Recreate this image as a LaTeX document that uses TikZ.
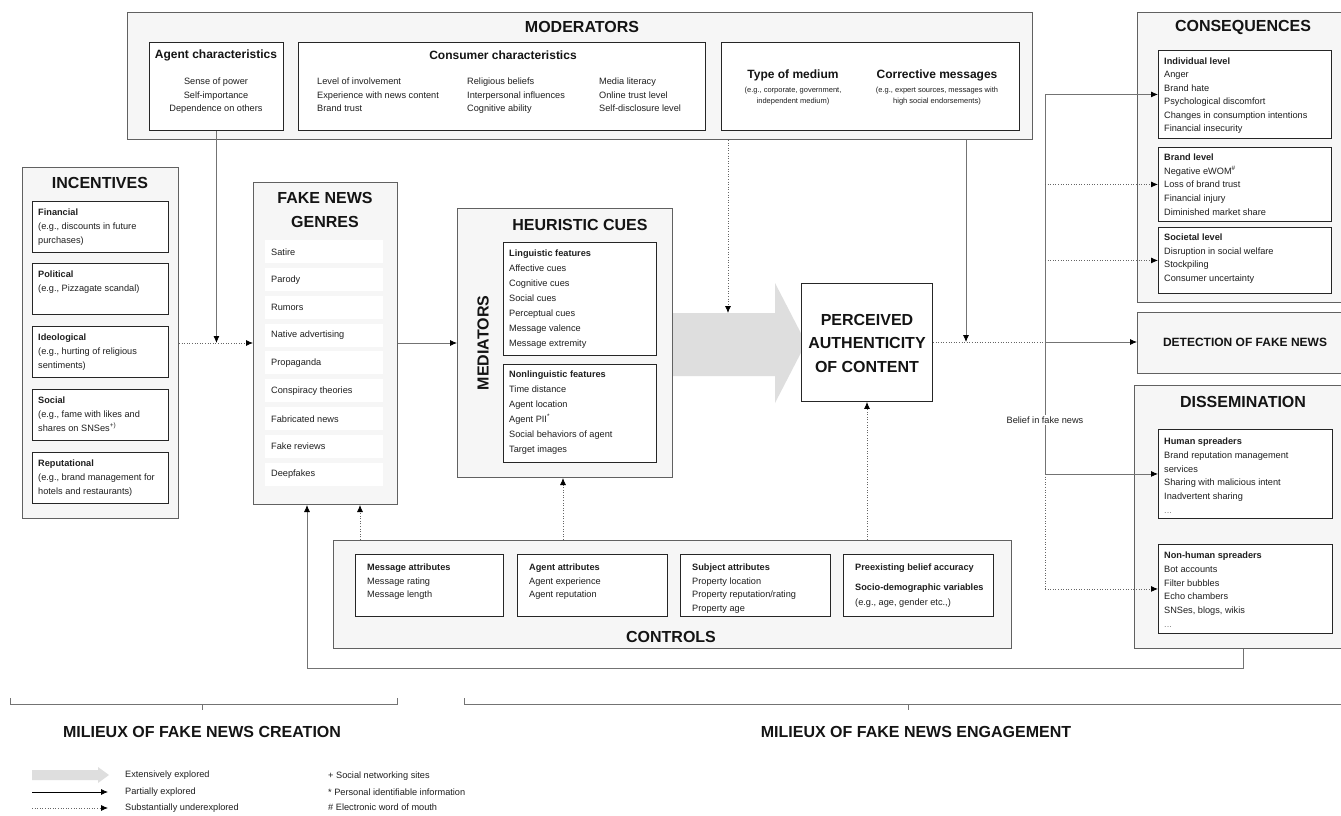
\documentclass[tikz,border=0pt]{standalone}
\usepackage{fontspec}
\setmainfont{Liberation Sans}
\usetikzlibrary{arrows.meta,calc}
\newcommand\myhd{\fontsize{16}{23.5}\selectfont\bfseries}
\newcommand\mysub{\fontsize{12}{14}\selectfont\bfseries}
\newcommand\mytxt[1]{\fontsize{9.2}{#1}\selectfont}
\newcommand\mysmall{\fontsize{7.5}{11}\selectfont}
\definecolor{grpfill}{HTML}{F6F6F6}
\definecolor{arrfill}{HTML}{DEDEDE}
\begin{document}
\begin{tikzpicture}[x=1pt,y=-1pt,
  grp/.style={draw=black!62, fill=grpfill, line width=1pt, inner sep=0pt, anchor=north west},
  ibox/.style={draw=black!85, fill=white, line width=0.9pt, inner sep=0pt, anchor=north west},
  gitem/.style={fill=white, inner sep=0pt, anchor=north west, minimum width=118pt, minimum height=23pt},
  hd/.style={font=\myhd, inner sep=0pt, text=black!92},
  sub/.style={font=\mysub, inner sep=0pt, text=black!92},
  txt/.style={font=\mytxt{13.6}, inner sep=0pt, align=left, anchor=north west, text=black!88},
  sm/.style={font=\mysmall, inner sep=0pt, align=center, anchor=north, text=black!88},
  conn/.style={draw=black!55, line width=0.8pt},
  dot/.style={draw=black!60, line width=0.8pt, dash pattern=on 1pt off 1.6pt},
  tip/.style={-{Latex[length=7pt,width=6pt,color=black]}}
]
\useasboundingbox (0,0) rectangle (1341,816);
\fill[white] (0,0) rectangle (1341,816);

% ---------- MODERATORS ----------
\node[grp, minimum width=905pt, minimum height=127pt] (mod) at (127,12) {};
\node[hd] (modt) at (582,27) {MODERATORS};
\node[ibox, minimum width=134pt, minimum height=88pt] (agc) at (149,42) {};
\node[sub] (agct) at (216,55) {Agent characteristics};
\node[txt, align=center, anchor=north] (agcx) at (216,77.6) {Sense of power\\Self-importance\\Dependence on others};
\node[ibox, minimum width=407pt, minimum height=88pt] (coc) at (298,42) {};
\node[sub] (coct) at (503,55) {Consumer characteristics};
\node[txt] (coc1) at (317,77.6) {Level of involvement\\Experience with news content\\Brand trust};
\node[txt] (coc2) at (467,77.6) {Religious beliefs\\Interpersonal influences\\Cognitive ability};
\node[txt] (coc3) at (599,77.6) {Media literacy\\Online trust level\\Self-disclosure level};
\node[ibox, minimum width=298pt, minimum height=88pt] (tom) at (721,42) {};
\node[sub] (tomt) at (793,75) {Type of medium};
\node[sm] (tomx) at (793,87.2) {(e.g., corporate, government,\\independent medium)};
\node[sub] (cort) at (937,75) {Corrective messages};
\node[sm] (corx) at (937,87.2) {(e.g., expert sources, messages with\\high social endorsements)};

% ---------- INCENTIVES ----------
\node[grp, minimum width=156pt, minimum height=351pt] (inc) at (22,167) {};
\node[hd] (inct) at (100,183) {INCENTIVES};
\node[ibox, minimum width=136pt, minimum height=51pt] (inc1) at (32,201) {};
\node[txt, font=\mytxt{14}] (inc1x) at (38,208.6) {\textbf{Financial}\\(e.g., discounts in future\\purchases)};
\node[ibox, minimum width=136pt, minimum height=51pt] (inc2) at (32,263) {};
\node[txt, font=\mytxt{14}] (inc2x) at (38,270.6) {\textbf{Political}\\(e.g., Pizzagate scandal)};
\node[ibox, minimum width=136pt, minimum height=51pt] (inc3) at (32,326) {};
\node[txt, font=\mytxt{14}] (inc3x) at (38,333.6) {\textbf{Ideological}\\(e.g., hurting of religious\\sentiments)};
\node[ibox, minimum width=136pt, minimum height=51pt] (inc4) at (32,389) {};
\node[txt, font=\mytxt{14}] (inc4x) at (38,396.6) {\textbf{Social}\\(e.g., fame with likes and\\shares on SNSes\textsuperscript{+)}};
\node[ibox, minimum width=136pt, minimum height=51pt] (inc5) at (32,452) {};
\node[txt, font=\mytxt{14}] (inc5x) at (38,459.6) {\textbf{Reputational}\\(e.g., brand management for\\hotels and restaurants)};

% ---------- FAKE NEWS GENRES ----------
\node[grp, minimum width=144pt, minimum height=322pt] (gen) at (253,182) {};
\node[hd, align=center, font=\fontsize{16}{24}\selectfont\bfseries] (gent) at (325,210) {FAKE NEWS\\GENRES};
\foreach \t [count=\i from 0] in {Satire,Parody,Rumors,Native advertising,Propaganda,Conspiracy theories,Fabricated news,Fake reviews,Deepfakes}{
  \node[gitem] (gi\i) at (265,{240+27.8*\i}) {};
  \node[txt, anchor=west] (gt\i) at (271,{252+27.8*\i}) {\t};
}

% ---------- HEURISTIC CUES ----------
\fill[arrfill] (672,313) -- (775,313) -- (775,283) -- (806,343) -- (775,403) -- (775,376) -- (672,376) -- cycle;
\node[grp, minimum width=215pt, minimum height=269pt] (hc) at (457,208) {};
\node[hd] (hct) at (580,225) {HEURISTIC CUES};
\node[hd] (medl) at (483,343) {\rotatebox{90}{MEDIATORS}};
\node[ibox, minimum width=153pt, minimum height=113pt] (ling) at (503,242) {};
\node[txt, font=\mytxt{15}] (lingx) at (509,249.6) {\textbf{Linguistic features}\\Affective cues\\Cognitive cues\\Social cues\\Perceptual cues\\Message valence\\Message extremity};
\node[ibox, minimum width=153pt, minimum height=98pt] (nling) at (503,364) {};
\node[txt, font=\mytxt{15}] (nlingx) at (509,370.6) {\textbf{Nonlinguistic features}\\Time distance\\Agent location\\Agent PII\textsuperscript{*}\\Social behaviors of agent\\Target images};
\coordinate (bigtop) at (728,313);

% ---------- PERCEIVED AUTHENTICITY ----------
\node[ibox, minimum width=131pt, minimum height=118pt] (pa) at (801,283) {};
\node[hd, align=center] (pat) at (867,343) {PERCEIVED\\AUTHENTICITY\\OF CONTENT};

% ---------- CONSEQUENCES ----------
\node[grp, minimum width=215pt, minimum height=290pt] (cons) at (1137,12) {};
\node[hd] (const) at (1243,27) {CONSEQUENCES};
\node[ibox, minimum width=173pt, minimum height=88pt] (ind) at (1158,50) {};
\node[txt, font=\mytxt{13.4}] (indx) at (1164,57.6) {\textbf{Individual level}\\Anger\\Brand hate\\Psychological discomfort\\Changes in consumption intentions\\Financial insecurity};
\node[ibox, minimum width=173pt, minimum height=74pt] (brd) at (1158,147) {};
\node[txt, font=\mytxt{13.75}] (brdx) at (1164,153.6) {\textbf{Brand level}\\Negative eWOM\textsuperscript{\#}\\Loss of brand trust\\Financial injury\\Diminished market share};
\node[ibox, minimum width=173pt, minimum height=66pt] (soc) at (1158,227) {};
\node[txt, font=\mytxt{13.7}] (socx) at (1164,233.6) {\textbf{Societal level}\\Disruption in social welfare\\Stockpiling\\Consumer uncertainty};

% ---------- DETECTION ----------
\node[grp, minimum width=215pt, minimum height=61pt] (det) at (1137,312) {};
\node[sub] (dett) at (1245,342) {DETECTION OF FAKE NEWS};

% ---------- DISSEMINATION ----------
\node[grp, minimum width=218pt, minimum height=263pt] (dis) at (1134,385) {};
\node[hd] (dist) at (1243,402) {DISSEMINATION};
\node[ibox, minimum width=174pt, minimum height=89pt] (hum) at (1158,429) {};
\node[txt, font=\mytxt{13.8}] (humx) at (1164,437.6) {\textbf{Human spreaders}\\Brand reputation management\\services\\Sharing with malicious intent\\Inadvertent sharing\\\textcolor{black!50}{...}};
\node[ibox, minimum width=174pt, minimum height=89pt] (nhum) at (1158,544) {};
\node[txt, font=\mytxt{13.8}] (nhumx) at (1164,551.6) {\textbf{Non-human spreaders}\\Bot accounts\\Filter bubbles\\Echo chambers\\SNSes, blogs, wikis\\\textcolor{black!50}{...}};

% ---------- CONTROLS ----------
\node[grp, minimum width=678pt, minimum height=108pt] (ctl) at (333,540) {};
\node[hd] (ctlt) at (671,637) {CONTROLS};
\node[ibox, minimum width=148pt, minimum height=62pt] (ma) at (355,554) {};
\node[txt, font=\mytxt{13.7}] (max) at (367,563.6) {\textbf{Message attributes}\\Message rating\\Message length};
\node[ibox, minimum width=150pt, minimum height=62pt] (aa) at (517,554) {};
\node[txt, font=\mytxt{13.7}] (aax) at (529,563.6) {\textbf{Agent attributes}\\Agent experience\\Agent reputation};
\node[ibox, minimum width=150pt, minimum height=62pt] (sa) at (680,554) {};
\node[txt, font=\mytxt{13.7}] (sax) at (692,563.6) {\textbf{Subject attributes}\\Property location\\Property reputation/rating\\Property age};
\node[ibox, minimum width=150pt, minimum height=62pt] (pb) at (843,554) {};
\node[txt] (pbx1) at (855,563.6) {\textbf{Preexisting belief accuracy}};
\node[txt, font=\mytxt{15}] (pbx2) at (855,583.6) {\textbf{Socio-demographic variables}\\(e.g., age, gender etc.,)};

% ---------- CONNECTORS ----------
\draw[dot, tip] (inc.east |- hc.west) -- (gen.west |- hc.west);
\draw[conn, tip] (agc.south) -- (agc.south |- hc.west);
\draw[conn, tip] (gen.east |- hc.west) -- (hc.west);
\draw[dot, tip] (mod.south -| bigtop) -- (bigtop);
\coordinate (jm) at (966,342);
\draw[conn, tip] (mod.south -| jm) -- (jm);
\coordinate (trunk) at (1045,342);
\draw[dot] (pa.east |- trunk) -- (trunk);
\draw[conn, tip] (trunk) -- (det.west |- trunk);
\draw[conn] (trunk |- ind.west) -- (trunk |- hum.west);
\draw[dot] (trunk |- hum.west) -- (trunk |- nhum.west);
\draw[conn, tip] (trunk |- ind.west) -- (ind.west);
\draw[dot, tip] (trunk |- brd.west) -- (brd.west);
\draw[dot, tip] (trunk |- soc.west) -- (soc.west);
\draw[conn, tip] (trunk |- hum.west) -- (hum.west);
\draw[dot, tip] (trunk |- nhum.west) -- (nhum.west);
\node[txt, anchor=center, fill=white, inner sep=1.5pt] (belief) at (1045,420) {Belief in fake news};
\coordinate (u1) at (360,540);
\coordinate (u2) at (563,540);
\coordinate (u3) at (867,540);
\draw[dot, tip] (ctl.north -| u1) -- (u1 |- gen.south);
\draw[dot, tip] (ctl.north -| u2) -- (u2 |- hc.south);
\draw[dot, tip] (ctl.north -| u3) -- (u3 |- pa.south);
\coordinate (fbr) at (1243,668);
\coordinate (fbl) at (307,668);
\draw[conn, tip] (dis.south -| fbr) -- (fbr) -- (fbl) -- (fbl |- gen.south);

% ---------- MILIEUX ----------
\draw[conn, line width=0.7pt] (10,698) -- (10,704) -- (397,704) -- (397,698);
\draw[conn, line width=0.7pt] (202,704) -- (202,710);
\draw[conn, line width=0.7pt] (464,698) -- (464,704) -- (1345,704);
\draw[conn, line width=0.7pt] (908,704) -- (908,710);
\node[hd] (mil1) at (202,732) {MILIEUX OF FAKE NEWS CREATION};
\node[hd] (mil2) at (916,732) {MILIEUX OF FAKE NEWS ENGAGEMENT};

% ---------- LEGEND ----------
\fill[arrfill] (32,770) -- (98,770) -- (98,767) -- (109,775) -- (98,783) -- (98,780) -- (32,780) -- cycle;
\coordinate (l1a) at (32,792); \coordinate (l1b) at (108,792);
\coordinate (l2a) at (32,808); \coordinate (l2b) at (108,808);
\draw[black, line width=0.8pt, tip] (l1a) -- (l1b);
\draw[dot, tip] (l2a) -- (l2b);
\node[txt, anchor=west] (lg1) at (125,775) {Extensively explored};
\node[txt, anchor=west] (lg2) at (125,792) {Partially explored};
\node[txt, anchor=west] (lg3) at (125,808) {Substantially underexplored};
\node[txt, anchor=west] (fn1) at (328,776) {+ Social networking sites};
\node[txt, anchor=west] (fn2) at (328,792) {* Personal identifiable information};
\node[txt, anchor=west] (fn3) at (328,807) {\# Electronic word of mouth};
\end{tikzpicture}
\end{document}
